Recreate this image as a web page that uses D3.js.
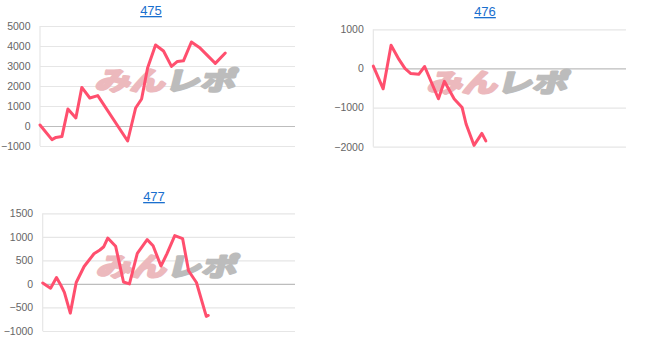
<!DOCTYPE html>
<html>
<head>
<meta charset="utf-8">
<script src="https://cdn.jsdelivr.net/npm/d3@7"></script>
<style>
  body { margin: 0; background: #fff; }
  svg { display: block; }
</style>
</head>
<body>
<script>
// machine numbers shown as chart titles
const titles = ['475', '476', '477'];

// x = play position (same 0..128 scale for every chart), y = coin difference
const x475 = [0, 6, 8, 11, 14, 18, 21, 25, 29, 44, 48, 51, 54, 58, 62, 66, 69, 72, 76, 80, 88, 93];
const y475 = [50, -680, -570, -530, 850, 400, 1930, 1400, 1520, -750, 900, 1350, 2900, 4050, 3750, 2980, 3230, 3260, 4200, 3930, 3130, 3650];

const x476 = [0, 5, 9, 13, 16, 19, 23, 26, 33, 36, 41, 45, 47, 51, 55, 57];
const y476 = [60, -520, 590, 230, 0, -130, -150, 50, -775, -330, -780, -1000, -1420, -1965, -1660, -1850];

const x477 = [0, 4, 7, 9, 11, 14, 17, 21, 26, 29, 31, 33, 37, 41, 44, 48, 53, 56, 60, 63, 67, 71, 74, 78, 83, 84];
const y477 = [20, -90, 135, -10, -180, -620, 30, 370, 640, 720, 790, 975, 800, 40, 0, 650, 940, 810, 380, 640, 1025, 960, 280, 30, -690, -670];

// y tick labels
const ticks475 = [5000, 4000, 3000, 2000, 1000, 0, -1000];
const ticks476 = [1000, 0, -1000, -2000];
const ticks477 = [1500, 1000, 500, 0, -500, -1000];

const xMax = 128;

// where each chart sits on the page
const layout = [
  { left: 40, right: 295, top: 26, bottom: 146, tx: 151, ty: 15 },
  { left: 373.3, right: 626, top: 29.3, bottom: 146.7, tx: 485, ty: 16 },
  { left: 42.7, right: 295, top: 213.3, bottom: 331, tx: 154, ty: 201 },
];

const charts = [
  { title: titles[0], xs: x475, ys: y475, ticks: ticks475 },
  { title: titles[1], xs: x476, ys: y476, ticks: ticks476 },
  { title: titles[2], xs: x477, ys: y477, ticks: ticks477 },
];

const svg = d3.select('body')
  .append('svg')
  .attr('width', 650)
  .attr('height', 349);

charts.forEach((c, i) => {
  const box = layout[i];
  const g = svg.append('g');

  const x = d3.scaleLinear()
    .domain([0, xMax])
    .range([box.left, box.right]);

  const y = d3.scaleLinear()
    .domain(d3.extent(c.ticks))
    .range([box.bottom, box.top]);

  // title (a link on the original page)
  g.append('text')
    .attr('x', box.tx)
    .attr('y', box.ty)
    .attr('text-anchor', 'middle')
    .attr('font-family', 'Arial, "Liberation Sans", sans-serif')
    .attr('font-size', '13px')
    .attr('fill', '#1a6fce')
    .style('text-decoration', 'underline')
    .text(c.title);

  // y axis with gridlines
  const axis = g.append('g')
    .attr('transform', `translate(${box.left},0)`)
    .call(d3.axisLeft(y)
      .tickValues(c.ticks)
      .tickFormat(d3.format('d'))
      .tickSizeInner(-(box.right - box.left))
      .tickSizeOuter(0)
      .tickPadding(9.5));

  axis.select('.domain').remove();
  axis.selectAll('.tick line')
    .attr('stroke', (d) => (d === 0 ? '#bdbdbd' : '#e6e6e6'))
    .attr('stroke-width', 1.2);
  axis.selectAll('.tick text')
    .attr('font-family', 'Arial, "Liberation Sans", sans-serif')
    .attr('font-size', '10.5px')
    .attr('fill', '#666');

  // left border
  g.append('line')
    .attr('x1', box.left)
    .attr('x2', box.left)
    .attr('y1', box.top)
    .attr('y2', box.bottom)
    .attr('stroke', '#e6e6e6')
    .attr('stroke-width', 1.2);

  // watermark logo, stroked to look heavier
  const cx = (box.left + box.right) / 2;
  const cy = (box.top + box.bottom) / 2 - 8;
  const wm = g.append('text')
    .attr('transform', `translate(${cx},${cy}) skewX(-14) scale(1.3,0.95)`)
    .attr('text-anchor', 'middle')
    .attr('dominant-baseline', 'central')
    .attr('font-family', '"Noto Sans CJK JP", sans-serif')
    .attr('font-weight', 'bold')
    .attr('font-size', '27px')
    .attr('stroke-width', 2.6)
    .attr('stroke-linejoin', 'round');
  wm.append('tspan').attr('fill', '#ecb9bd').attr('stroke', '#ecb9bd').text('みん');
  wm.append('tspan').attr('fill', '#bcbcbc').attr('stroke', '#bcbcbc').text('レポ');

  const line = d3.line()
    .x((d) => x(d[0]))
    .y((d) => y(d[1]));

  g.append('path')
    .datum(d3.zip(c.xs, c.ys))
    .attr('d', line)
    .attr('fill', 'none')
    .attr('stroke', '#ff4f6e')
    .attr('stroke-width', 3)
    .attr('stroke-linejoin', 'round')
    .attr('stroke-linecap', 'round');
});
</script>
</body>
</html>
